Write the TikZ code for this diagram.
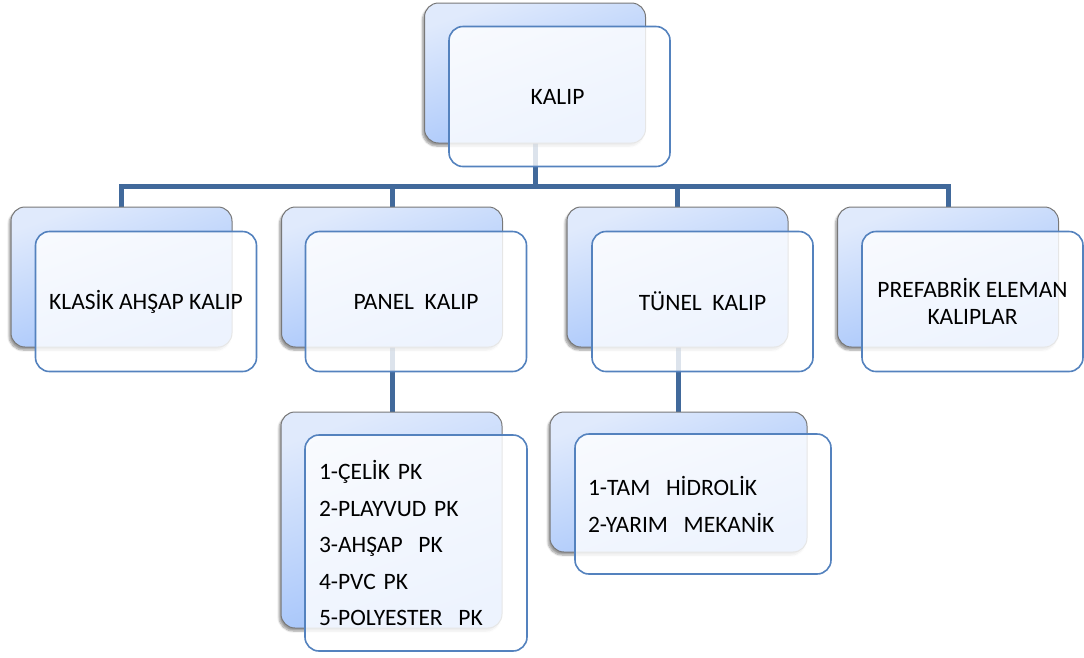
\documentclass[tikz,border=0pt]{standalone}
\usepackage{fontspec}
\setmainfont{Carlito}
\usetikzlibrary{shadows.blur}
\definecolor{linkblue}{RGB}{65,105,155}
\definecolor{frontblue}{RGB}{84,130,190}
\definecolor{backtop}{RGB}{224,234,252}
\definecolor{backbot}{RGB}{158,192,250}
\definecolor{backedge}{RGB}{120,120,120}
\tikzset{
  backbox/.style={draw=backedge, line width=1pt, rounded corners=14pt,
    top color=backtop, bottom color=backbot, shading angle=20,
    minimum width=221pt, minimum height=140pt, inner sep=0pt,
    blur shadow={shadow xshift=-2pt, shadow yshift=-3pt, shadow blur steps=6, shadow opacity=40}},
  frontbox/.style={draw=frontblue, line width=1.6pt, rounded corners=14pt,
    fill=white, fill opacity=0.82, text opacity=1, text=black,
    minimum width=221pt, minimum height=140pt, inner sep=0pt,
    font=\fontsize{23.5}{27}\selectfont, align=center},
  link/.style={draw=linkblue, line width=5pt},
}
\begin{document}
\begin{tikzpicture}[x=1pt, y=-1pt]
\useasboundingbox (0,0) rectangle (1084,657);
% coordinates for the bus
\coordinate (busL) at (121.5,186);
\coordinate (busR) at (948,186);
\coordinate (busM) at (535,186);
% connectors (drawn behind the boxes)
\path[link] (535,73) -- (busM);
\path[link] ([xshift=-2.5pt]busL) -- ([xshift=2.5pt]busR);
\path[link] (121.5,186) -- (121.5,277);
\path[link] (392,186) -- (392,277);
\path[link] (677.5,186) -- (677.5,277);
\path[link] (948,186) -- (948,277);
\path[link] (392,277) -- (392,520);
\path[link] (678,277) -- (678,482);
% root
\node[backbox] (rootB) at (535,73) {};
\node[frontbox] (root) at (559.5,96.5) {\hspace*{-4pt}KALIP};
% level 1
\node[backbox] (b1B) at (121.5,277) {};
\node[frontbox] (b1) at (146,301.5) {KLASİK AHŞAP KALIP};
\node[backbox] (b2B) at (392,277) {};
\node[frontbox] (b2) at (416,301.5) {PANEL\ \ KALIP};
\node[backbox] (b3B) at (677.5,277) {};
\node[frontbox] (b3) at (702.5,301.5) {TÜNEL\ \ KALIP};
\node[backbox] (b4B) at (948,277) {};
\node[frontbox] (b4) at (972.5,301.5) {PREFABRİK ELEMAN\\KALIPLAR};
% level 2
\node[backbox, minimum height=216pt] (c1B) at (391.5,520) {};
\node[frontbox, minimum height=216pt, minimum width=222pt, align=left, text width=194pt,
      font=\fontsize{23.5}{36.5}\selectfont] (c1) at (416,543)
  {1-ÇELİK PK\\2-PLAYVUD PK\\3-AHŞAP\ \ PK\\4-PVC PK\\5-POLYESTER\ \ PK};
\node[backbox, minimum height=140pt, minimum width=257pt] (c2B) at (678.5,482) {};
\node[frontbox, minimum height=140pt, minimum width=256pt, align=left, text width=230pt,
      font=\fontsize{23.5}{37}\selectfont] (c2) at (703,504)
  {1-TAM\ \ HİDROLİK\\2-YARIM\ \ MEKANİK};
\end{tikzpicture}
\end{document}
